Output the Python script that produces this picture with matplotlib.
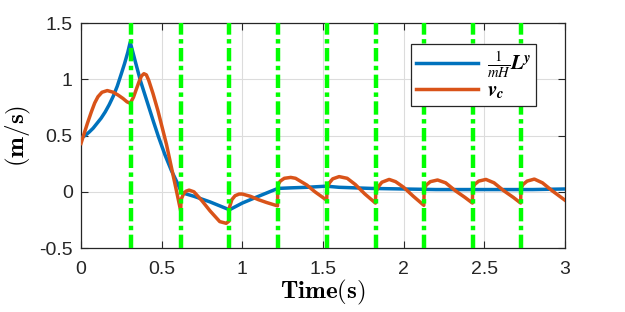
import numpy as np
import matplotlib.pyplot as plt

plt.rcParams['mathtext.fontset'] = 'cm'
plt.rcParams['font.family'] = ['Liberation Sans', 'DejaVu Sans']

# instants de commutation (lignes vertes)
t_switch = [0.31, 0.62, 0.92, 1.22, 1.525, 1.827, 2.127, 2.428, 2.727]

# courbe bleue : 1/(mH) L^y
t_L = [0, 0.025, 0.05, 0.075, 0.1, 0.125, 0.15, 0.175, 0.2, 0.225, 0.25, 0.27,
       0.29, 0.305, 0.34, 0.37, 0.41, 0.45, 0.48, 0.52, 0.56, 0.6, 0.615, 0.63,
       0.7, 0.8, 0.92, 1.0, 1.1, 1.22, 1.3, 1.4, 1.52, 1.6, 1.8, 2.0, 2.2, 2.5,
       2.8, 3.0]
L_y = [0.48, 0.50, 0.53, 0.565, 0.61, 0.655, 0.71, 0.775, 0.85, 0.94, 1.05, 1.14,
       1.24, 1.33, 1.14, 0.98, 0.80, 0.62, 0.49, 0.33, 0.19, 0.07, 0.02, -0.01,
       -0.04, -0.09, -0.16, -0.10, -0.04, 0.03, 0.035, 0.04, 0.05, 0.04, 0.03,
       0.025, 0.02, 0.02, 0.02, 0.025]

# courbe orange : v_c
t_v = [0, 0.02, 0.04, 0.064, 0.085, 0.105, 0.13, 0.163, 0.2, 0.23, 0.26, 0.285,
       0.3, 0.31, 0.325, 0.34, 0.36, 0.375, 0.39, 0.405, 0.42, 0.446, 0.477, 0.5,
       0.53, 0.56, 0.59, 0.618,
       0.62, 0.635, 0.65, 0.67, 0.7, 0.75, 0.8, 0.86, 0.9, 0.918,
       0.92, 0.935, 0.955, 0.98, 1.0, 1.05, 1.1, 1.15, 1.218,
       1.22, 1.235, 1.26, 1.3, 1.33, 1.4, 1.45, 1.523,
       1.525, 1.54, 1.56, 1.6, 1.65, 1.7, 1.76, 1.825,
       1.827, 1.84, 1.865, 1.91, 1.95, 2.0, 2.06, 2.125,
       2.127, 2.14, 2.165, 2.21, 2.26, 2.32, 2.38, 2.426,
       2.428, 2.44, 2.465, 2.51, 2.56, 2.62, 2.68, 2.725,
       2.727, 2.74, 2.765, 2.81, 2.86, 2.92, 3.0]
v_c = [0.43, 0.52, 0.61, 0.71, 0.79, 0.845, 0.885, 0.90, 0.885, 0.86, 0.83, 0.80,
       0.79, 0.80, 0.84, 0.90, 0.98, 1.03, 1.05, 1.04, 0.99, 0.875, 0.72, 0.59,
       0.42, 0.22, 0.02, -0.17,
       -0.07, -0.02, 0.005, 0.015, 0.0, -0.08, -0.17, -0.265, -0.28, -0.26,
       -0.14, -0.07, -0.035, -0.02, -0.02, -0.04, -0.07, -0.095, -0.125,
       0.06, 0.095, 0.12, 0.128, 0.12, 0.06, 0.0, -0.075,
       0.03, 0.08, 0.115, 0.135, 0.12, 0.065, -0.02, -0.10,
       -0.01, 0.04, 0.085, 0.11, 0.09, 0.04, -0.04, -0.12,
       0.02, 0.06, 0.09, 0.105, 0.08, 0.01, -0.05, -0.10,
       0.03, 0.065, 0.095, 0.11, 0.08, 0.01, -0.05, -0.10,
       0.03, 0.065, 0.095, 0.113, 0.08, 0.01, -0.075]

fig = plt.figure(figsize=(6.25, 3.12), dpi=100)
ax = fig.add_axes([0.1296, 0.205, 0.7744, 0.721])

l1, = ax.plot(t_L, L_y, color='#0072BD', lw=2.5, zorder=3)
l2, = ax.plot(t_v, v_c, color='#D95319', lw=2.5, zorder=3)
for ts in t_switch:
    ax.axvline(ts, color='#00FF00', lw=3.2, linestyle=(0, (3, 1, 1, 1)), zorder=4)

ax.set_xlim(0, 3)
ax.set_ylim(-0.5, 1.5)
ax.set_xticks([0, 0.5, 1, 1.5, 2, 2.5, 3])
ax.set_xticklabels(['0', '0.5', '1', '1.5', '2', '2.5', '3'])
ax.set_yticks([-0.5, 0, 0.5, 1, 1.5])
ax.set_yticklabels(['-0.5', '0', '0.5', '1', '1.5'])
ax.grid(True, color='#DCDCDC', lw=0.8)
ax.set_axisbelow(True)
ax.tick_params(direction='in', top=True, right=True, labelsize=14,
               colors='#262626', length=5, width=0.8)
ax.tick_params(axis='x', pad=9)
ax.tick_params(axis='y', pad=6)
for s in ax.spines.values():
    s.set_color('#262626')
    s.set_linewidth(0.9)

ax.set_xlabel(r'$\mathbf{Time(s)}$', fontsize=18, labelpad=0)
ax.set_ylabel(r'$\mathbf{(m/s)}$', fontsize=18, labelpad=4)

leg = ax.legend([l1, l2], [r'$\frac{1}{mH}\mathbfit{L}^{\mathbfit{y}}$', r'$\mathbfit{v}_{\mathbfit{c}}$'],
                loc='upper left', bbox_to_anchor=(0.681, 0.905), fontsize=15,
                fancybox=False, framealpha=1, edgecolor='#262626',
                handlelength=3.0, handletextpad=0.4, borderpad=0.25,
                labelspacing=0.05, borderaxespad=0)
leg.get_frame().set_linewidth(0.9)
for txt in leg.get_texts():
    txt.set_math_fontfamily('stix')

fig.savefig('out.png', dpi=100)
